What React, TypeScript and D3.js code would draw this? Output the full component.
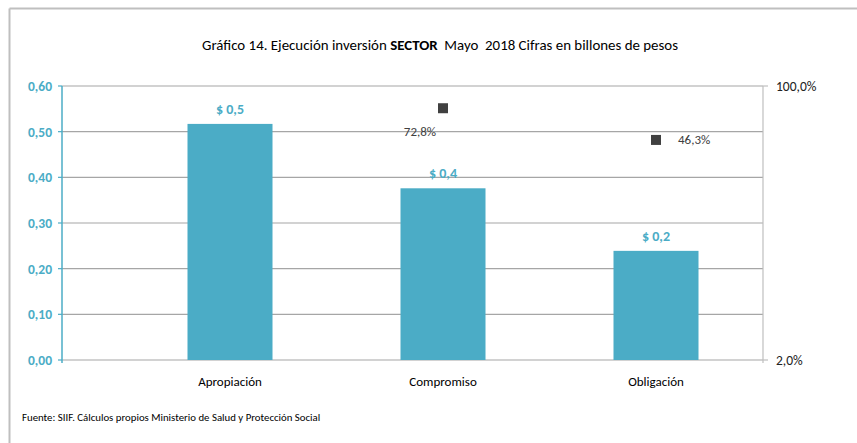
import React from "react";
import * as d3 from "d3";

const categories = ["Apropiación", "Compromiso", "Obligación"];
const values = [0.517, 0.376, 0.239];
const valueLabels = ["$ 0,5", "$ 0,4", "$ 0,2"];
const pctCategories = ["Compromiso", "Obligación"];
const pctValues = [0.728, 0.463];
const pctLabels = ["72,8%", "46,3%"];
const leftTicks = [0, 0.1, 0.2, 0.3, 0.4, 0.5, 0.6];
const rightTicks = [0.02, 1];
const rightTickLabels = ["2,0%", "100,0%"];

const W = 857;
const H = 443;
const TEAL = "#4BACC6";
const FONT = "Carlito, Lato, 'Open Sans', sans-serif";

export default function App() {
  const top = 86;
  const bottom = 360;
  const axisX = 62;
  const rightX = 763;
  const x = d3.scaleBand<string>().domain(categories).range([123.5, 762.5]).paddingInner(0.6).paddingOuter(0.3);
  const xc = (c: string) => (x(c) as number) + x.bandwidth() / 2;
  const y = d3.scaleLinear().domain([0, 0.6]).range([bottom, top]);
  const yr = d3.scaleLog().domain([0.02, 1]).range([bottom, top]);
  const fmt = (v: number) => v.toFixed(2).replace(".", ",");
  const barW = 85;

  return (
    <svg width={W} height={H} style={{ position: "absolute", left: 0, top: 0, background: "#fff" }} fontFamily={FONT}>
      <rect x={0} y={0} width={W} height={H} fill="#fff" />
      <line x1={9.5} y1={8.5} x2={W} y2={8.5} stroke="#bfbfbf" strokeWidth={2} />
      <line x1={9.5} y1={8.5} x2={9.5} y2={H} stroke="#bfbfbf" strokeWidth={2} />
      <text x={440} y={50} textAnchor="middle" fontSize={14.9} fill="#000" style={{ whiteSpace: "pre" }}>
        Gráfico 14. Ejecución inversión <tspan fontWeight="bold">SECTOR</tspan>
        {"  Mayo  2018 Cifras en billones de pesos"}
      </text>
      {leftTicks.map((t) => (
        <g key={t}>
          <line x1={axisX} x2={rightX} y1={y(t)} y2={y(t)} stroke="#a6a6a6" strokeWidth={1.2} />
          <line x1={axisX - 4} x2={axisX} y1={y(t)} y2={y(t)} stroke={TEAL} strokeWidth={1.2} />
          <text x={52} y={y(t) + 5} textAnchor="end" fontSize={13.5} fontWeight="bold" fill={TEAL}>
            {fmt(t)}
          </text>
        </g>
      ))}
      <line x1={axisX} x2={axisX} y1={top} y2={bottom + 3} stroke={TEAL} strokeWidth={1.5} />
      <line x1={rightX} x2={rightX} y1={top} y2={bottom + 3} stroke="#bfbfbf" strokeWidth={1.2} />
      {rightTicks.map((t, i) => (
        <g key={t}>
          <line x1={rightX} x2={rightX + 5} y1={yr(t)} y2={yr(t)} stroke="#bfbfbf" strokeWidth={1.2} />
          <text x={776} y={yr(t) + 4.5} fontSize={13.5} fill="#222">
            {rightTickLabels[i]}
          </text>
        </g>
      ))}
      {categories.map((c, i) => (
        <g key={c}>
          <rect x={xc(c) - barW / 2} y={y(values[i])} width={barW} height={bottom - y(values[i])} fill={TEAL} />
          <text x={xc(c)} y={y(values[i]) - 10} textAnchor="middle" fontSize={14} fontWeight="bold" fill={TEAL}>
            {valueLabels[i]}
          </text>
          <text x={xc(c)} y={386} textAnchor="middle" fontSize={13} fill="#000">
            {c}
          </text>
        </g>
      ))}
      {pctCategories.map((c, i) => {
        const cx = xc(c);
        const cy = yr(pctValues[i]);
        const below = i === 0;
        return (
          <g key={c}>
            <rect x={cx - 5} y={cy - 5} width={10} height={10} fill="#404040" />
            <text
              x={below ? cx - 23 : cx + 22}
              y={below ? cy + 28 : cy + 4.5}
              textAnchor={below ? "middle" : "start"}
              fontSize={13}
              fill="#404040"
            >
              {pctLabels[i]}
            </text>
          </g>
        );
      })}
      <text x={22} y={421} fontSize={10.8} fill="#000">
        Fuente: SIIF. Cálculos propios Ministerio de Salud y Protección Social
      </text>
    </svg>
  );
}
